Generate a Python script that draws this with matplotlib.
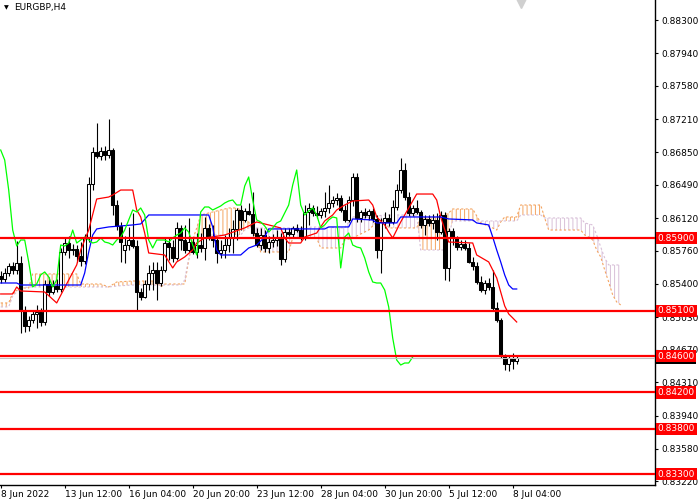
import matplotlib
matplotlib.use("Agg")
import matplotlib.pyplot as plt
import matplotlib.transforms as mtransforms
import numpy as np

SYMBOL = "EURGBP,H4"

# H4 candles, bar index 0 = 8 Jun 2022 20:00
OPEN = [0.85484, 0.85451, 0.85517, 0.85594, 0.85550, 0.85627, 0.85109, 0.84932, 0.84998, 0.85065,
        0.85087, 0.84976, 0.85395, 0.85307, 0.85373, 0.85340, 0.85748, 0.85847, 0.85770, 0.85781,
        0.85704, 0.85649, 0.85902, 0.86497, 0.86850, 0.86806, 0.86861, 0.86817, 0.86872, 0.86266,
        0.86035, 0.85770, 0.85825, 0.85880, 0.85814, 0.85307, 0.85252, 0.85395, 0.85517, 0.85550,
        0.85406, 0.85550, 0.85847, 0.85803, 0.85682, 0.86013, 0.85880, 0.85770, 0.85858, 0.85748,
        0.85825, 0.85792, 0.86013, 0.85913, 0.85880, 0.85737, 0.85770, 0.85825, 0.85902, 0.86002,
        0.86211, 0.86101, 0.86200, 0.86167, 0.85957, 0.85825, 0.85935, 0.85792, 0.85858, 0.85880,
        0.85902, 0.85671, 0.85968, 0.85946, 0.86013, 0.85990, 0.85913, 0.86189, 0.86233, 0.86178,
        0.86156, 0.86200, 0.86233, 0.86288, 0.86321, 0.86343, 0.86211, 0.86101, 0.86321, 0.86575,
        0.86123, 0.86189, 0.86156, 0.86200, 0.86112, 0.85770, 0.86079, 0.86123, 0.86079, 0.86244,
        0.86431, 0.86652, 0.86354, 0.86178, 0.86233, 0.86189, 0.86046, 0.86112, 0.86068, 0.86101,
        0.85968, 0.86156, 0.85572, 0.85979, 0.85902, 0.85803, 0.85836, 0.85792, 0.85638, 0.85594,
        0.85417, 0.85329, 0.85406, 0.85362, 0.85131, 0.84998, 0.84601, 0.84513, 0.84579, 0.84546]
HIGH = [0.85539, 0.85572, 0.85627, 0.85638, 0.85869, 0.85704, 0.85153, 0.85043, 0.85109, 0.85164,
        0.85131, 0.85439, 0.85473, 0.85439, 0.85451, 0.85792, 0.85902, 0.85924, 0.85836, 0.85825,
        0.85858, 0.85946, 0.86575, 0.86905, 0.87170, 0.86905, 0.86916, 0.87214, 0.86894, 0.86321,
        0.86079, 0.85924, 0.86024, 0.86178, 0.85880, 0.85351, 0.85439, 0.85605, 0.85638, 0.85638,
        0.85594, 0.85902, 0.85902, 0.85880, 0.86079, 0.86046, 0.86046, 0.86123, 0.85902, 0.85957,
        0.85957, 0.86134, 0.86057, 0.86046, 0.85913, 0.85880, 0.85935, 0.86013, 0.86101, 0.86233,
        0.86266, 0.86233, 0.86288, 0.86409, 0.86013, 0.86013, 0.85990, 0.85924, 0.85946, 0.85990,
        0.85957, 0.86013, 0.86013, 0.86035, 0.86057, 0.86035, 0.86266, 0.86288, 0.86266, 0.86255,
        0.86233, 0.86409, 0.86486, 0.86365, 0.86398, 0.86376, 0.86266, 0.86365, 0.86619, 0.86619,
        0.86211, 0.86233, 0.86222, 0.86233, 0.86156, 0.86123, 0.86189, 0.86167, 0.86321, 0.86497,
        0.86784, 0.86729, 0.86409, 0.86266, 0.86321, 0.86211, 0.86156, 0.86156, 0.86167, 0.86178,
        0.86200, 0.86189, 0.86013, 0.86013, 0.85924, 0.85880, 0.85880, 0.85847, 0.85693, 0.85638,
        0.85484, 0.85439, 0.85462, 0.85550, 0.85197, 0.85021, 0.84623, 0.84612, 0.84634, 0.84612]
LOW = [0.85406, 0.85417, 0.85484, 0.85506, 0.85506, 0.84855, 0.84866, 0.84877, 0.84965, 0.84910,
       0.84932, 0.84943, 0.85263, 0.85285, 0.85307, 0.85307, 0.85715, 0.85682, 0.85715, 0.85638,
       0.85594, 0.85616, 0.85858, 0.86431, 0.86784, 0.86762, 0.86762, 0.86784, 0.86156, 0.85990,
       0.85638, 0.85627, 0.85770, 0.85792, 0.85109, 0.85219, 0.85241, 0.85329, 0.85329, 0.85219,
       0.85373, 0.85528, 0.85660, 0.85638, 0.85660, 0.85770, 0.85737, 0.85748, 0.85726, 0.85682,
       0.85748, 0.85660, 0.85880, 0.85803, 0.85627, 0.85682, 0.85682, 0.85748, 0.85737, 0.85880,
       0.85990, 0.86079, 0.86156, 0.85924, 0.85803, 0.85770, 0.85748, 0.85737, 0.85803, 0.85814,
       0.85605, 0.85638, 0.85924, 0.85902, 0.85968, 0.85880, 0.85880, 0.86046, 0.86145, 0.86123,
       0.86123, 0.86134, 0.86178, 0.86244, 0.86266, 0.86189, 0.86079, 0.86079, 0.86255, 0.86079,
       0.86079, 0.86123, 0.86101, 0.86079, 0.85682, 0.85517, 0.86013, 0.86035, 0.86057, 0.86211,
       0.86398, 0.86321, 0.86145, 0.86145, 0.86167, 0.86013, 0.85935, 0.86035, 0.86002, 0.85880,
       0.85946, 0.85439, 0.85428, 0.85825, 0.85770, 0.85770, 0.85770, 0.85627, 0.85550, 0.85395,
       0.85307, 0.85285, 0.85329, 0.85098, 0.84976, 0.84579, 0.84447, 0.84436, 0.84458, 0.84513]
CLOSE = [0.85451, 0.85517, 0.85594, 0.85550, 0.85627, 0.85109, 0.84932, 0.84998, 0.85065, 0.85087,
         0.84976, 0.85395, 0.85307, 0.85373, 0.85340, 0.85748, 0.85847, 0.85770, 0.85781, 0.85704,
         0.85649, 0.85902, 0.86497, 0.86850, 0.86806, 0.86861, 0.86817, 0.86872, 0.86266, 0.86035,
         0.85858, 0.85825, 0.85880, 0.85814, 0.85307, 0.85252, 0.85395, 0.85517, 0.85550, 0.85406,
         0.85550, 0.85847, 0.85803, 0.85682, 0.86013, 0.85880, 0.85770, 0.85858, 0.85748, 0.85825,
         0.85792, 0.86013, 0.85913, 0.85880, 0.85737, 0.85770, 0.85825, 0.85902, 0.86002, 0.86211,
         0.86101, 0.86200, 0.86167, 0.85957, 0.85825, 0.85935, 0.85792, 0.85858, 0.85880, 0.85902,
         0.85671, 0.85968, 0.85946, 0.86013, 0.85990, 0.85913, 0.86189, 0.86233, 0.86178, 0.86156,
         0.86200, 0.86233, 0.86288, 0.86321, 0.86343, 0.86211, 0.86101, 0.86321, 0.86575, 0.86123,
         0.86189, 0.86156, 0.86200, 0.86112, 0.85770, 0.86079, 0.86123, 0.86079, 0.86244, 0.86431,
         0.86652, 0.86354, 0.86178, 0.86233, 0.86189, 0.86046, 0.86112, 0.86068, 0.86101, 0.85968,
         0.86156, 0.85572, 0.85979, 0.85902, 0.85803, 0.85836, 0.85792, 0.85638, 0.85594, 0.85417,
         0.85329, 0.85406, 0.85362, 0.85131, 0.84998, 0.84601, 0.84513, 0.84579, 0.84546, 0.84579]

# Ichimoku lines (bar index, price)
TENKAN_K = [0, 3, 4, 5, 11, 14, 17, 19, 20, 22, 24, 27, 28, 30, 33, 34, 35, 36, 37, 41, 43, 44,
            46, 48, 49, 51, 56, 61, 64, 67, 70, 71, 72, 75, 76, 79, 80, 81, 83, 84, 86, 88, 92,
            93, 94, 96, 97, 98, 100, 102, 104, 108, 109, 110, 112, 118, 119, 122, 123, 124, 125,
            126, 127, 128, 129]
TENKAN = [0.85285, 0.85285, 0.85362, 0.85318, 0.85307, 0.85186, 0.85439, 0.85605, 0.85770,
          0.85990, 0.86332, 0.86354, 0.86376, 0.86431, 0.86431, 0.86211, 0.86134, 0.85957,
          0.85737, 0.85715, 0.85572, 0.85638, 0.85693, 0.85770, 0.85847, 0.85902, 0.85935,
          0.86013, 0.86079, 0.86046, 0.86013, 0.85902, 0.85847, 0.85847, 0.85913, 0.85957,
          0.86024, 0.86090, 0.86156, 0.86211, 0.86266, 0.86310, 0.86321, 0.86266, 0.86134,
          0.86046, 0.85968, 0.85902, 0.86079, 0.86233, 0.86387, 0.86387, 0.86321, 0.86134,
          0.85858, 0.85847, 0.85715, 0.85638, 0.85550, 0.85462, 0.85307, 0.85153, 0.85065,
          0.85021, 0.84976]

KIJUN_K = [0, 4, 5, 20, 21, 22, 23, 24, 27, 33, 35, 37, 52, 53, 54, 55, 60, 62, 64, 66, 67, 81,
           82, 87, 88, 93, 94, 99, 100, 110, 112, 118, 119, 122, 123, 124, 125, 126, 127, 128, 129]
KIJUN = [0.85406, 0.85406, 0.85384, 0.85384, 0.85517, 0.85748, 0.85935, 0.86002, 0.86024,
         0.86046, 0.86057, 0.86156, 0.86156, 0.86024, 0.85770, 0.85715, 0.85715, 0.85792,
         0.85825, 0.85913, 0.86002, 0.86002, 0.86024, 0.86024, 0.86112, 0.86101, 0.86068,
         0.86068, 0.86134, 0.86134, 0.86112, 0.86101, 0.86068, 0.86046, 0.85913, 0.85770,
         0.85638, 0.85495, 0.85384, 0.85340, 0.85340]

# Chikou span, bars 0..103
CHIKOU = [0.86872, 0.86762, 0.86431, 0.85990, 0.85814, 0.85880, 0.85880, 0.85638, 0.85362, 0.85395,
          0.85495, 0.85528, 0.85473, 0.85362, 0.85439, 0.85825, 0.85814, 0.85847, 0.85990, 0.85847,
          0.85880, 0.85913, 0.85880, 0.85847, 0.85858, 0.85902, 0.85858, 0.85847, 0.85825, 0.85880,
          0.85913, 0.85990, 0.86101, 0.86211, 0.86189, 0.86233, 0.86156, 0.85880, 0.85792, 0.85880,
          0.85880, 0.85880, 0.85858, 0.85902, 0.85935, 0.85957, 0.86013, 0.85968, 0.85825, 0.85715,
          0.86189, 0.86244, 0.86244, 0.86211, 0.86233, 0.86255, 0.86288, 0.86310, 0.86321, 0.86266,
          0.86266, 0.86475, 0.86575, 0.86321, 0.86101, 0.86079, 0.86035, 0.85968, 0.86013, 0.86068,
          0.86090, 0.86178, 0.86266, 0.86486, 0.86652, 0.86266, 0.86156, 0.86200, 0.86233, 0.86156,
          0.86013, 0.86046, 0.86101, 0.86134, 0.86123, 0.85572, 0.85913, 0.85957, 0.85825, 0.85803,
          0.85792, 0.85682, 0.85528, 0.85417, 0.85406, 0.85406, 0.85329, 0.85142, 0.84800, 0.84557,
          0.84502, 0.84524, 0.84524, 0.84590]

SPAN_K = [0, 2, 3, 5, 7, 8, 19, 20, 25, 27, 29, 33, 39, 40, 41, 45, 46, 47, 48, 49, 50, 52, 55,
          57, 59, 60, 61, 62, 64, 65, 72, 73, 79, 80, 85, 86, 87, 88, 89, 92, 93, 94, 96, 97, 104,
          105, 110, 111, 112, 113, 118, 120, 123, 124, 125, 126, 129, 130, 135, 136, 137, 145,
          146, 147, 148, 149, 150, 151, 152, 153, 154, 155]
SPAN_A = [0.85186, 0.85186, 0.85296, 0.85351, 0.85351, 0.85506, 0.85506, 0.85395, 0.85395,
          0.85362, 0.85417, 0.85428, 0.85428, 0.85362, 0.85395, 0.85395, 0.85395, 0.85660,
          0.85880, 0.86013, 0.86156, 0.86178, 0.86211, 0.86233, 0.86233, 0.86211, 0.86123,
          0.86079, 0.85880, 0.85748, 0.85748, 0.85902, 0.85902, 0.85792, 0.85792, 0.85880,
          0.85891, 0.85902, 0.85924, 0.85990, 0.86035, 0.86079, 0.86101, 0.86013, 0.86013,
          0.86123, 0.86134, 0.86156, 0.86178, 0.86222, 0.86222, 0.86068, 0.86013, 0.85990,
          0.86079, 0.86134, 0.86134, 0.86266, 0.86266, 0.86123, 0.85990, 0.85990, 0.85935,
          0.85913, 0.85880, 0.85770, 0.85693, 0.85550, 0.85417, 0.85274, 0.85197, 0.85164]
SPAN_B = [0.85142, 0.85142, 0.85263, 0.85351, 0.85362, 0.85362, 0.85362, 0.85362, 0.85362,
          0.85362, 0.85373, 0.85384, 0.85384, 0.85384, 0.85384, 0.85384, 0.85439, 0.85682,
          0.85825, 0.85935, 0.85935, 0.85935, 0.85935, 0.85935, 0.85935, 0.85935, 0.85990,
          0.86013, 0.86013, 0.86013, 0.86013, 0.86013, 0.86024, 0.86024, 0.86013, 0.86013,
          0.86079, 0.86134, 0.86134, 0.86134, 0.86134, 0.86145, 0.86156, 0.86156, 0.86156,
          0.85770, 0.85770, 0.85770, 0.85935, 0.86090, 0.86090, 0.86090, 0.86090, 0.86090,
          0.86090, 0.86090, 0.86090, 0.86156, 0.86156, 0.86123, 0.86123, 0.86123, 0.86068,
          0.86057, 0.86046, 0.85935, 0.85803, 0.85682, 0.85605, 0.85605, 0.85605, 0.85605]

LEVELS = [0.85900, 0.85100, 0.84600, 0.84200, 0.83800, 0.83300]
PRICE_TICKS = [0.88300, 0.87940, 0.87580, 0.87210, 0.86850, 0.86490, 0.86120, 0.85760,
               0.85400, 0.85030, 0.84670, 0.84310, 0.83940, 0.83580, 0.83220]
TIME_TICK_BARS = [0, 16, 32, 48, 64, 80, 96, 112, 128]
TIME_TICK_LABELS = ["8 Jun 2022", "13 Jun 12:00", "16 Jun 04:00", "20 Jun 20:00",
                    "23 Jun 12:00", "28 Jun 04:00", "30 Jun 20:00", "5 Jul 12:00", "8 Jul 04:00"]

FONT = 6.5
plt.rcParams["font.family"] = "DejaVu Sans"
plt.rcParams["hatch.linewidth"] = 0.7

fig = plt.figure(figsize=(7, 5), dpi=100)
ax = fig.add_axes([0, 0.03, 655 / 700, 0.97])
ax.set_xlim(-0.175, 163.575)
ax.set_ylim(0.83179, 0.88526)

# cloud: sandy brown where span A is on top, thistle where span B is
sk = np.array(SPAN_K)
sa = np.array(SPAN_A)
sb = np.array(SPAN_B)
ax.fill_between(sk, sa, sb, where=sa >= sb, interpolate=True, facecolor="none",
                edgecolor="#f4a460", hatch="||||", linewidth=0, zorder=1)
ax.fill_between(sk, sa, sb, where=sa < sb, interpolate=True, facecolor="none",
                edgecolor="#d8bfd8", hatch="||||", linewidth=0, zorder=1)
ax.plot(sk, sa, color="#f4a460", lw=0.8, ls=(0, (2, 2)), zorder=1.5)
ax.plot(sk, sb, color="#d8bfd8", lw=0.8, ls=(0, (2, 2)), zorder=1.5)

# candles
k = np.arange(len(CLOSE))
o = np.array(OPEN)
c = np.array(CLOSE)
ax.vlines(k, LOW, HIGH, color="black", lw=0.8, zorder=3)
up = c >= o
ax.bar(k[up], c[up] - o[up], bottom=o[up], width=0.62, color="white",
       edgecolor="black", linewidth=0.75, zorder=3.2)
ax.bar(k[~up], o[~up] - c[~up], bottom=c[~up], width=0.62, color="black",
       edgecolor="black", linewidth=0.75, zorder=3.2)

# ichimoku lines
ax.plot(TENKAN_K, TENKAN, color="#ff0000", lw=0.9, zorder=4)
ax.plot(KIJUN_K, KIJUN, color="#0000ff", lw=0.9, zorder=4)
ax.plot(np.arange(len(CHIKOU)), CHIKOU, color="#00ff00", lw=0.9, zorder=4)

# bid line + horizontal levels
trans = mtransforms.blended_transform_factory(ax.transAxes, ax.transData)
ax.axhline(CLOSE[-1], color="#c0c0c0", lw=0.8, zorder=4.5)
ax.text(1.004, CLOSE[-1], f"{CLOSE[-1]:.5f}", transform=trans, ha="left", va="center",
        fontsize=FONT, color="white", clip_on=False, zorder=19,
        bbox=dict(boxstyle="square,pad=0.18", fc="black", ec="none"))
for lvl in LEVELS:
    ax.axhline(lvl, color="#ff0000", lw=1.6, zorder=5)
    ax.text(1.004, lvl, f"{lvl:.5f}", transform=trans, ha="left", va="center",
            fontsize=FONT, color="white", clip_on=False, zorder=20,
            bbox=dict(boxstyle="square,pad=0.18", fc="#ff0000", ec="none"))

# axes styling
for side in ("left", "top"):
    ax.spines[side].set_visible(False)
for side in ("right", "bottom"):
    ax.spines[side].set_color("black")
    ax.spines[side].set_linewidth(1.0)
ax.yaxis.tick_right()
ax.set_yticks(PRICE_TICKS)
ax.set_yticklabels([f"{p:.5f}" for p in PRICE_TICKS])
ax.set_xticks(TIME_TICK_BARS)
ax.set_xticklabels(TIME_TICK_LABELS)
for lbl in ax.get_xticklabels():
    lbl.set_horizontalalignment("left")
ax.tick_params(axis="y", direction="out", length=2.5, width=0.8, pad=2, labelsize=FONT)
ax.tick_params(axis="x", direction="out", length=2.5, width=0.8, pad=1, labelsize=FONT)

# symbol caption and chart-shift marker
ax.text(0.006, 0.984, "▼", transform=ax.transAxes, fontsize=4.5, ha="left", va="center")
ax.text(0.022, 0.984, SYMBOL, transform=ax.transAxes, fontsize=FONT, ha="left", va="center")
shift = mtransforms.blended_transform_factory(ax.transData, ax.transAxes)
ax.plot([len(CLOSE)], [0.995], marker="v", ms=8, color="#d0d0d0", transform=shift,
        clip_on=False, zorder=6)

fig.savefig("out.png", dpi=100)
